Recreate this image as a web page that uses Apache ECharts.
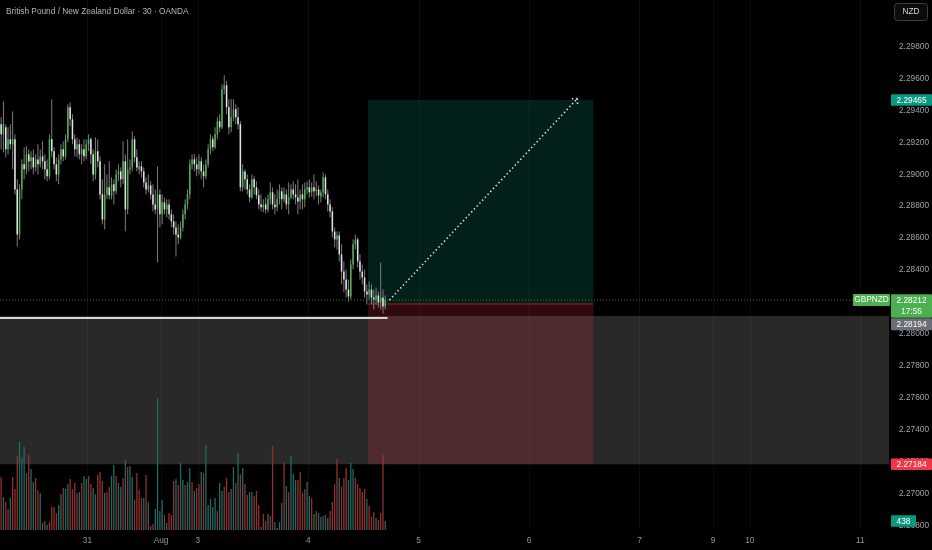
<!DOCTYPE html>
<html><head><meta charset="utf-8">
<script src="https://cdn.jsdelivr.net/npm/echarts@6/dist/echarts.min.js"></script>
<style>html,body{margin:0;padding:0;background:#000;}#c{width:932px;height:550px;}</style>
</head><body><div id="c"></div>
<script>
// ---------- DATA ----------
const titleText = 'British Pound / New Zealand Dollar · 30 · OANDA';
const currencyText = 'NZD';
const symbolText = 'GBPNZD';
const countdownText = '17:55';

const opens = [2.29313,2.29250,2.29294,2.29156,2.29219,2.29188,2.29219,2.28905,2.28623,2.28905,
2.29062,2.29031,2.29125,2.29081,2.29106,2.29043,2.29093,2.29062,2.29112,2.29081,
2.29031,2.28987,2.29219,2.29144,2.29062,2.28999,2.29093,2.29156,2.29112,2.29219,
2.29420,2.29344,2.29219,2.29156,2.29188,2.29125,2.29156,2.29112,2.29188,2.29219,
2.29125,2.28999,2.29144,2.29081,2.28874,2.28717,2.28874,2.28918,2.28868,2.28937,
2.28893,2.28999,2.29018,2.28968,2.29081,2.28780,2.29031,2.29043,2.29219,2.29106,
2.29031,2.29050,2.29018,2.28949,2.28905,2.28930,2.28874,2.28811,2.28780,2.28874,
2.28749,2.28824,2.28780,2.28811,2.28749,2.28705,2.28667,2.28623,2.28604,2.28667,
2.28749,2.28811,2.28874,2.29062,2.29093,2.29062,2.29031,2.29081,2.29018,2.28987,
2.29062,2.29156,2.29219,2.29169,2.29250,2.29332,2.29294,2.29532,2.29557,2.29420,
2.29294,2.29357,2.29407,2.29357,2.29313,2.28918,2.29018,2.28968,2.28905,2.28855,
2.28968,2.28918,2.28868,2.28811,2.28793,2.28811,2.28780,2.28843,2.28887,2.28811,
2.28793,2.28843,2.28893,2.28843,2.28874,2.28811,2.28855,2.28905,2.28874,2.28855,
2.28830,2.28874,2.28843,2.28905,2.28918,2.28887,2.28918,2.28893,2.28905,2.28861,
2.28887,2.28981,2.28874,2.28811,2.28767,2.28642,2.28592,2.28617,2.28498,2.28391,
2.28341,2.28278,2.28235,2.28435,2.28561,2.28592,2.28454,2.28391,2.28354,2.28266,
2.28247,2.28278,2.28228,2.28216,2.28241,2.28197,2.28228,2.28172];

const closes = [2.29250,2.29313,2.29156,2.29219,2.29188,2.29219,2.28905,2.28623,2.28905,2.29062,
2.29031,2.29125,2.29081,2.29106,2.29043,2.29093,2.29062,2.29112,2.29081,2.29031,
2.28987,2.29219,2.29144,2.29062,2.28999,2.29093,2.29156,2.29112,2.29219,2.29420,
2.29344,2.29219,2.29156,2.29188,2.29125,2.29156,2.29112,2.29188,2.29219,2.29125,
2.28999,2.29144,2.29081,2.28874,2.28717,2.28874,2.28918,2.28868,2.28937,2.28893,
2.28999,2.29018,2.28968,2.29081,2.28780,2.29031,2.29043,2.29219,2.29106,2.29043,
2.29050,2.29018,2.28949,2.28905,2.28930,2.28874,2.28811,2.28780,2.28874,2.28749,
2.28824,2.28780,2.28811,2.28749,2.28705,2.28667,2.28623,2.28604,2.28667,2.28749,
2.28811,2.28874,2.29062,2.29093,2.29062,2.29031,2.29081,2.29018,2.28987,2.29062,
2.29156,2.29219,2.29169,2.29250,2.29332,2.29294,2.29532,2.29557,2.29420,2.29294,
2.29357,2.29407,2.29357,2.29313,2.28918,2.29018,2.28968,2.28905,2.28855,2.28968,
2.28918,2.28868,2.28811,2.28793,2.28811,2.28780,2.28843,2.28887,2.28811,2.28793,
2.28843,2.28893,2.28843,2.28874,2.28811,2.28855,2.28905,2.28874,2.28855,2.28830,
2.28874,2.28843,2.28905,2.28918,2.28887,2.28918,2.28893,2.28905,2.28868,2.28887,
2.28981,2.28874,2.28811,2.28767,2.28642,2.28592,2.28617,2.28498,2.28391,2.28341,
2.28278,2.28235,2.28435,2.28561,2.28592,2.28454,2.28391,2.28354,2.28266,2.28247,
2.28278,2.28228,2.28216,2.28241,2.28197,2.28228,2.28172,2.28212];

const highs = [2.29357,2.29457,2.29313,2.29294,2.29313,2.29394,2.29250,2.28968,2.28937,2.29093,
2.29169,2.29175,2.29156,2.29144,2.29156,2.29125,2.29188,2.29156,2.29206,2.29125,
2.29093,2.29250,2.29470,2.29169,2.29106,2.29125,2.29188,2.29206,2.29250,2.29438,
2.29451,2.29376,2.29250,2.29231,2.29219,2.29188,2.29219,2.29219,2.29250,2.29231,
2.29156,2.29231,2.29219,2.29112,2.28968,2.29062,2.28999,2.29081,2.28981,2.28968,
2.29031,2.29062,2.29043,2.29206,2.29125,2.29219,2.29093,2.29269,2.29238,2.29156,
2.29081,2.29081,2.29043,2.28981,2.28999,2.28956,2.28937,2.28905,2.29050,2.28905,
2.28874,2.28855,2.28843,2.28843,2.28780,2.28749,2.28705,2.28686,2.28705,2.28780,
2.28843,2.28905,2.29093,2.29125,2.29125,2.29106,2.29125,2.29106,2.29062,2.29093,
2.29188,2.29250,2.29238,2.29294,2.29357,2.29376,2.29564,2.29620,2.29583,2.29470,
2.29470,2.29470,2.29438,2.29420,2.29332,2.29062,2.29031,2.28999,2.28937,2.28999,
2.28987,2.28956,2.28905,2.28874,2.28843,2.28855,2.28874,2.28949,2.28918,2.28874,
2.28905,2.28937,2.28918,2.28918,2.28905,2.28949,2.28937,2.28956,2.28937,2.28968,
2.28905,2.28937,2.28949,2.28956,2.28968,2.28949,2.28999,2.28956,2.28930,2.28905,
2.29012,2.28999,2.28905,2.28843,2.28793,2.28667,2.28642,2.28642,2.28561,2.28454,
2.28404,2.28341,2.28466,2.28592,2.28623,2.28604,2.28498,2.28435,2.28404,2.28310,
2.28329,2.28310,2.28278,2.28291,2.28266,2.28448,2.28278,2.28241];

const lows = [2.29156,2.29137,2.29106,2.29125,2.29156,2.29031,2.28874,2.28548,2.28592,2.28843,
2.28968,2.28999,2.29018,2.29031,2.28999,2.29018,2.28999,2.29043,2.29031,2.28968,
2.28956,2.28968,2.29106,2.29031,2.28956,2.28937,2.29062,2.29081,2.29093,2.29200,
2.29300,2.29188,2.29112,2.29106,2.29093,2.29062,2.29081,2.29093,2.29144,2.29062,
2.28956,2.28968,2.29043,2.28843,2.28686,2.28655,2.28843,2.28843,2.28843,2.28811,
2.28874,2.28956,2.28918,2.28937,2.28642,2.28749,2.28999,2.29018,2.29075,2.29018,
2.28999,2.28981,2.28918,2.28874,2.28887,2.28843,2.28767,2.28749,2.28448,2.28667,
2.28686,2.28749,2.28730,2.28717,2.28667,2.28623,2.28485,2.28561,2.28592,2.28642,
2.28717,2.28780,2.28843,2.29031,2.29018,2.28987,2.28999,2.28968,2.28918,2.28968,
2.29043,2.29125,2.29144,2.29156,2.29219,2.29263,2.29282,2.29501,2.29376,2.29250,
2.29263,2.29332,2.29313,2.29282,2.28893,2.28893,2.28905,2.28874,2.28824,2.28843,
2.28874,2.28843,2.28780,2.28767,2.28761,2.28755,2.28761,2.28811,2.28780,2.28749,
2.28767,2.28811,2.28780,2.28824,2.28780,2.28749,2.28843,2.28843,2.28811,2.28749,
2.28780,2.28780,2.28793,2.28874,2.28855,2.28861,2.28843,2.28861,2.28811,2.28824,
2.28855,2.28843,2.28767,2.28730,2.28604,2.28542,2.28529,2.28454,2.28310,2.28260,
2.28228,2.28203,2.28216,2.28404,2.28529,2.28416,2.28341,2.28310,2.28228,2.28184,
2.28216,2.28184,2.28153,2.28184,2.28166,2.28153,2.28128,2.28153];

const volumes = [2600,1620,1370,1030,1570,2600,2010,3630,4310,3530,
4070,2790,3680,2990,2350,2550,1960,1810,340,440,
250,390,1130,1130,830,1230,1760,2060,2010,2250,
2500,2010,2300,1810,1860,2300,2650,2500,2650,2250,
2060,1760,2700,2840,2400,1810,1860,2110,2650,3190,
2650,2300,2110,2550,3430,3090,3140,2600,1470,2790,
1960,1570,1570,2700,1370,200,290,1030,6470,930,
1470,740,340,830,740,2400,2500,2210,3280,2450,
2210,2350,3040,2350,
1910,2060,2250,2840,2790,4170,1230,1520,1130,1570,
930,2300,1910,2110,2550,1860,2010,3090,2300,3770,
2740,3040,2250,1720,1860,1860,1670,1910,1230,150,
780,440,780,690,4120,390,100,390,1320,3330,
2160,1860,3630,2740,2450,2450,2840,1810,2010,2350,
1670,1570,780,930,830,640,690,740,590,930,
1370,2250,3480,2550,2110,2550,3040,2450,3280,2990,
2550,2250,2060,1860,2010,1520,1180,640,880,590,
490,830,3680,438];

// 1 = up-volume (teal), 0 = down-volume (red)
const volumeUp = [0,1,0,0,1,0,0,0,1,1, 1,0,0,1,1,0,0,1,1,0, 1,0,0,0,0,1,1,0,1,1,
0,0,0,0,1,0,1,1,0,0, 1,1,0,0,0,1,0,0,1,1, 0,1,1,0,1,0,1,1,0,0,
0,0,1,0,1,0,0,1,1,1, 1,0,1,0,0,0,1,0,1,1, 0,1,1,0,
1,0,0,1,0,1,1,1,1,1, 0,1,1,0,0,0,1,1,0,1, 0,1,0,0,1,1,0,0,0,1,
0,0,1,0,0,1,1,1,1,0, 1,0,1,1,1,0,0,0,0,1, 1,0,1,0,1,1,0,1,1,0,
0,0,0,1,0,0,0,1,1,1, 0,0,0,0,0,1,0,0,0,1, 0,0,0,1];

const xTickPos  = [38, 70, 86, 134, 182, 230, 278, 310, 326, 374];
const xTickText = ['31', 'Aug', '3', '4', '5', '6', '7', '9', '10', '11'];

const barSlots = 386.5;          // visible 30-min slots, incl. future space
const priceMin = 2.267724, priceMax = 2.300912;
const volumeMax = 25970;

const lastPrice   = 2.28212;
const entryPrice  = 2.28194;
const targetPrice = 2.29465;
const stopPrice   = 2.27184;
const posStart = 160, posEnd = 258;
const zoneTop = 2.28113, zoneBottom = 2.27184;
const hLinePrice = 2.28100, hLineEnd = 168.5;
const arrowFrom = [169.3, 2.28212], arrowTo = [251, 2.29474];

// ---------- STYLE ----------
const FONT = '"Liberation Sans", Arial, sans-serif';
const upBody = '#4caf50', downBody = '#e2e2e2', wickCol = '#7c7c7c';
const volUpCol = '#1f6b63', volDownCol = '#913131';

const chart = echarts.init(document.getElementById('c'), null, {renderer: 'canvas'});

const candleData = opens.map((o, i) => [i, o, closes[i], lows[i], highs[i]]);
const volumeData = volumes.map((v, i) => [i, v, volumeUp[i]]);

function candleItem(params, api) {
  const i = api.value(0), o = api.value(1), c = api.value(2), l = api.value(3), h = api.value(4);
  const pO = api.coord([i + 0.5, o]), pC = api.coord([i + 0.5, c]);
  const pL = api.coord([i + 0.5, l]), pH = api.coord([i + 0.5, h]);
  const bw = api.size([1, 0])[0] * 0.66;
  const x = pO[0];
  const top = Math.min(pO[1], pC[1]);
  const ht = Math.max(Math.abs(pO[1] - pC[1]), 1);
  return {type: 'group', children: [
    {type: 'line', shape: {x1: x, y1: pH[1], x2: x, y2: pL[1]}, style: {stroke: wickCol, lineWidth: 1}},
    {type: 'rect', shape: {x: x - bw / 2, y: top, width: bw, height: ht}, style: {fill: c >= o ? upBody : downBody}}
  ]};
}
function volumeItem(params, api) {
  const i = api.value(0), v = api.value(1), up = api.value(2);
  const t = api.coord([i + 0.5, v]), b = api.coord([i + 0.5, 0]);
  const bw = 1.3;
  return {type: 'rect', shape: {x: t[0] - bw / 2, y: t[1], width: bw, height: b[1] - t[1]},
          style: {fill: up ? volUpCol : volDownCol}};
}
function rectItem(colors) {
  return function (params, api) {
    const p1 = api.coord([api.value(0), api.value(1)]), p2 = api.coord([api.value(2), api.value(3)]);
    return {type: 'rect', shape: {x: p1[0], y: p1[1], width: p2[0] - p1[0], height: p2[1] - p1[1]},
            style: {fill: colors[api.value(4)]}};
  };
}
function lineItem(params, api) {
  const kind = api.value(4);
  const a = api.coord([api.value(0), api.value(1)]), b = api.coord([api.value(2), api.value(3)]);
  if (kind === 0) return {type: 'line', shape: {x1: a[0], y1: a[1], x2: b[0], y2: b[1]}, style: {stroke: '#d6d6d6', lineWidth: 2}};
  if (kind === 1) return {type: 'line', shape: {x1: a[0], y1: a[1], x2: b[0], y2: b[1]}, style: {stroke: '#2f7d35', lineWidth: 1, lineDash: [1, 2]}};
  if (kind === 3) return {type: 'line', shape: {x1: a[0], y1: a[1] + 1, x2: b[0], y2: b[1] + 1}, style: {stroke: 'rgba(242,54,69,0.35)', lineWidth: 1.5}};
  // kind 2: dotted arrow
  const dx = b[0] - a[0], dy = b[1] - a[1], len = Math.hypot(dx, dy);
  const bx = -dx / len, by = -dy / len, c = Math.SQRT1_2, s = Math.SQRT1_2, L = 8;
  const w1 = [b[0] + L * (bx * c - by * s), b[1] + L * (bx * s + by * c)];
  const w2 = [b[0] + L * (bx * c + by * s), b[1] + L * (-bx * s + by * c)];
  const st = {stroke: '#dedede', lineWidth: 1.6, lineDash: [1.4, 2.6]};
  return {type: 'group', children: [
    {type: 'line', shape: {x1: a[0], y1: a[1], x2: b[0], y2: b[1]}, style: st},
    {type: 'line', shape: {x1: b[0], y1: b[1], x2: w1[0], y2: w1[1]}, style: st},
    {type: 'line', shape: {x1: b[0], y1: b[1], x2: w2[0], y2: w2[1]}, style: st}
  ]};
}
function vgridItem(params, api) {
  const p = api.coord([api.value(0), api.value(1)]);
  const cs = params.coordSys;
  return {type: 'line', shape: {x1: Math.round(p[0]) + 0.5, y1: cs.y, x2: Math.round(p[0]) + 0.5, y2: cs.y + cs.height},
          style: {stroke: '#0c0c0c', lineWidth: 1}};
}

const option = {
  backgroundColor: '#000000',
  animation: false,
  grid: {left: 0, right: 43, top: 0, bottom: 20, containLabel: false, outerBoundsMode: 'none'},
  xAxis: {
    type: 'value', min: 0, max: barSlots, interval: 1,
    axisLine: {show: false}, axisTick: {show: false}, splitLine: {show: false},
    axisLabel: {
      margin: 7, fontSize: 8.3, fontFamily: FONT, color: '#9598a1',
      showMinLabel: false, showMaxLabel: false,
      formatter: v => { const r = Math.round(v); const k = xTickPos.indexOf(r); return (k >= 0 && Math.abs(v - r) < 1e-6) ? xTickText[k] : ''; }
    }
  },
  yAxis: [{
    type: 'value', position: 'right', min: priceMin, max: priceMax, splitNumber: 16, scale: true,
    axisLine: {show: false}, axisTick: {show: false}, splitLine: {show: false},
    axisLabel: {
      margin: 10, fontSize: 8.3, fontFamily: FONT, color: '#a0a3ac', align: 'left',
      showMinLabel: false, showMaxLabel: false,
      formatter: v => { const q = v / 0.002; return (Math.abs(q - Math.round(q)) < 1e-6 && v < 2.2995) ? v.toFixed(5) : ''; }
    }
  }, {
    type: 'value', min: 0, max: volumeMax, show: false
  }],
  series: [
    {type: 'custom', z: 1, renderItem: vgridItem, encode: {x: 0, y: 1}, data: xTickPos.map(t => [t, 2.28]), silent: true},
    {type: 'custom', z: 2, renderItem: rectItem(['rgba(255,255,255,0.16)']), encode: {x: [0, 2], y: [1, 3]},
     data: [[0, zoneTop, barSlots, zoneBottom, 0]], silent: true, clip: true},
    {type: 'custom', z: 3, yAxisIndex: 1, renderItem: volumeItem, encode: {x: 0, y: 1}, data: volumeData, silent: true, clip: true},
    {type: 'custom', z: 4, renderItem: rectItem(['rgba(8,153,129,0.2)', 'rgba(242,54,69,0.2)']), encode: {x: [0, 2], y: [1, 3]},
     data: [[posStart, targetPrice, posEnd, entryPrice, 0], [posStart, entryPrice, posEnd, stopPrice, 1]], silent: true, clip: true},
    {type: 'custom', z: 5, renderItem: lineItem, encode: {x: [0, 2], y: [1, 3]},
     data: [[0, lastPrice, barSlots, lastPrice, 1], [posStart, entryPrice, posEnd, entryPrice, 3]], silent: true, clip: true},
    {type: 'custom', z: 6, renderItem: candleItem, encode: {x: 0, y: [1, 2, 3, 4]}, data: candleData, silent: true, clip: true},
    {type: 'custom', z: 7, renderItem: lineItem, encode: {x: [0, 2], y: [1, 3]},
     data: [[0, hLinePrice, hLineEnd, hLinePrice, 0], [arrowFrom[0], arrowFrom[1], arrowTo[0], arrowTo[1], 2]], silent: true, clip: false}
  ]
};
chart.setOption(option);

// ---------- price-scale labels (positions from the axes) ----------
const yOf = p => chart.convertToPixel({yAxisIndex: 0}, p);
const vyOf = v => chart.convertToPixel({yAxisIndex: 1}, v);
const LX = 891, LW = 41;
function boxLabel(yc, h, fill, lines, x, w) {
  x = x === undefined ? LX : x; w = w === undefined ? LW : w;
  const els = [{type: 'rect', z: 100, shape: {x: x, y: yc - h / 2, width: w, height: h, r: 1}, style: {fill: fill}}];
  lines.forEach((t, k) => els.push({type: 'text', z: 101, x: x + w / 2, y: yc - h / 2 + 6 + k * 11.5,
    style: {text: t, fill: '#ffffff', fontSize: 8.3, fontFamily: FONT, align: 'center', verticalAlign: 'middle'}}));
  return els;
}
const yLast = yOf(lastPrice);
let g = [];
g.push({type: 'text', z: 100, x: 6, y: 12, style: {text: titleText, fill: '#b2b5be', fontSize: 8.3, fontFamily: FONT, verticalAlign: 'middle'}});
g.push({type: 'rect', z: 100, shape: {x: 894.5, y: 3.5, width: 33, height: 17, r: 3}, style: {fill: '#0b0b0b', stroke: '#3b3d44', lineWidth: 1}});
g.push({type: 'text', z: 101, x: 911, y: 12, style: {text: currencyText, fill: '#d1d4dc', fontSize: 8.3, fontFamily: FONT, align: 'center', verticalAlign: 'middle'}});
g = g.concat(boxLabel(yOf(targetPrice), 11.5, '#089981', [targetPrice.toFixed(5)]));
g = g.concat(boxLabel(yLast + 6, 23.5, '#4caf50', [lastPrice.toFixed(5), countdownText]));
g = g.concat(boxLabel(yLast - 6 + 24 + 6.25, 12, '#6b6e77', [entryPrice.toFixed(5)]));
g = g.concat(boxLabel(yOf(stopPrice), 11.5, '#f23645', [stopPrice.toFixed(5)]));
g = g.concat(boxLabel(vyOf(volumes[volumes.length - 1]), 11.5, '#089981', [String(volumes[volumes.length - 1])], LX, 25));
g = g.concat(boxLabel(yLast, 12, '#4caf50', [symbolText], 853, 37));
chart.setOption({graphic: g});
</script></body></html>
